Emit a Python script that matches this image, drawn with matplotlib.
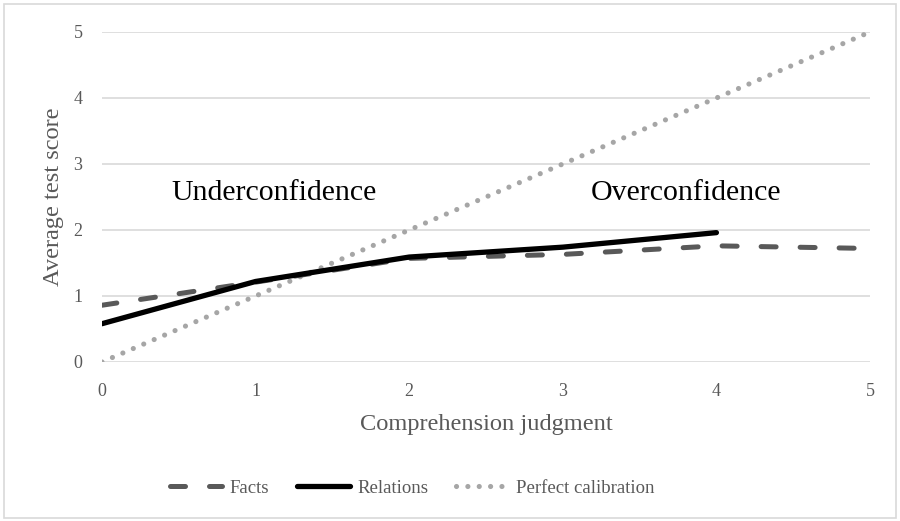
import matplotlib.pyplot as plt
from matplotlib.patches import Rectangle

# data
judgment = [0, 1, 2, 3, 4, 5]
facts = [0.86, 1.21, 1.57, 1.63, 1.76, 1.72]
relations = [0.58, 1.22, 1.59, 1.74, 1.96]
calibration = [0, 1, 2, 3, 4, 5]
y_ticks = [0, 1, 2, 3, 4, 5]

plt.rcParams["font.family"] = ["Liberation Serif", "DejaVu Serif"]
GRAY = "#595959"

fig = plt.figure(figsize=(9, 5.21), dpi=100)
ax = fig.add_axes([0.1133, 0.3052, 0.8534, 0.6334])

for y in y_ticks:
    ax.axhline(y, color="#d9d9d9", lw=1.2, zorder=0)

ax.plot(judgment, calibration, color="#a6a6a6", lw=3.7, linestyle=(0, (0.01, 2.2)),
        dash_capstyle="round", label="Perfect calibration", zorder=2)
ax.plot(judgment, facts, color=GRAY, lw=3.6, linestyle=(0, (3.0, 4.8)),
        dash_capstyle="round", label="Facts", zorder=3)
ax.plot(judgment[:len(relations)], relations, color="black", lw=3.8,
        solid_capstyle="round", label="Relations", zorder=4)

ax.set_xlim(0, 5)
ax.set_ylim(0, 5)
ax.set_xticks(judgment)
ax.set_yticks(y_ticks)
ax.tick_params(length=0, labelsize=13, labelcolor=GRAY)
ax.tick_params(axis="x", pad=15)
ax.tick_params(axis="y", pad=14)
for s in ax.spines.values():
    s.set_visible(False)

ax.set_xlabel("Comprehension judgment", fontsize=17.6, color=GRAY, labelpad=10)
ax.set_ylabel("Average test score", fontsize=17.6, color=GRAY, labelpad=7)

ax.text(1.12, 2.56, "Underconfidence", fontsize=21.5, ha="center", va="center", color="black")
ax.text(3.80, 2.56, "Overconfidence", fontsize=21.5, ha="center", va="center", color="black")

handles, labels = ax.get_legend_handles_labels()
order = [1, 2, 0]
leg = fig.legend([handles[i] for i in order], [labels[i] for i in order],
                 loc="center", bbox_to_anchor=(0.458, 0.063), ncol=3, frameon=False,
                 fontsize=13.5, handlelength=2.8, columnspacing=1.5, handletextpad=0.4)
for t in leg.get_texts():
    t.set_color(GRAY)

fig.patches.append(Rectangle((0.004, 0.006), 0.992, 0.986, transform=fig.transFigure,
                             fill=False, edgecolor="#d9d9d9", lw=1.2))

fig.savefig("out.png", dpi=100)
